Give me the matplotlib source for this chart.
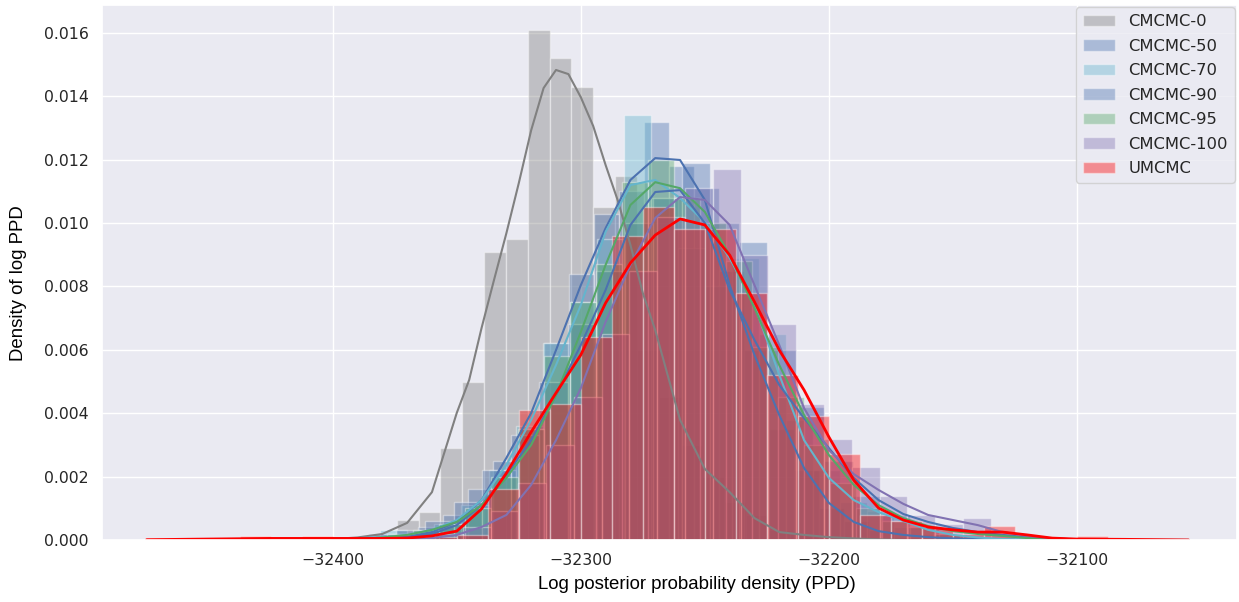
import numpy as np
import matplotlib
matplotlib.use("Agg")
import matplotlib.pyplot as plt
import seaborn as sns

# Series names and colours
labels = ["CMCMC-0", "CMCMC-50", "CMCMC-70", "CMCMC-90", "CMCMC-95", "CMCMC-100", "UMCMC"]
colors = ["gray", "#4C72B0", "#64B5CD", "#4C72B0", "#55A868", "#8172B2", "red"]

# Histogram bins: first edge, bin width, bar heights (density)
hist_start = [-32383.0, -32385.7, -32391.7, -32397.3, -32378.0, -32370.0, -32475.0]
hist_width = [8.8, 10.1, 10.9, 11.5, 10.5, 11.2, 12.5]

h_cmcmc0 = [0.0002, 0.00063, 0.00088, 0.0029, 0.0050, 0.0091, 0.0095, 0.0161, 0.0152,
            0.0143, 0.0105, 0.0115, 0.0060, 0.0045, 0.0030, 0.0020, 0.0012, 0.0008,
            0.0003, 0.0002, 0.0001]
h_cmcmc50 = [0.0001, 0.0002, 0.0004, 0.0008, 0.0016, 0.0025, 0.0035, 0.0062, 0.0084,
             0.0103, 0.0110, 0.0132, 0.0118, 0.0111, 0.0085, 0.0060, 0.0035, 0.0022,
             0.0010, 0.0006, 0.0003, 0.0001]
h_cmcmc70 = [0.0001, 0.0003, 0.0002, 0.0005, 0.0011, 0.0022, 0.0036, 0.0062, 0.0075,
             0.0095, 0.0134, 0.0108, 0.0092, 0.0080, 0.0089, 0.0065, 0.0038, 0.0022,
             0.0012, 0.0009, 0.0004, 0.0002, 0.0001]
h_cmcmc90 = [0.0001, 0.0002, 0.0003, 0.0006, 0.0012, 0.0022, 0.0033, 0.0050, 0.0068,
             0.0085, 0.0100, 0.0108, 0.0119, 0.0100, 0.0094, 0.0060, 0.0042, 0.0025,
             0.0014, 0.0008, 0.0004, 0.0002, 0.0001]
h_cmcmc95 = [0.0002, 0.0003, 0.0005, 0.0010, 0.0020, 0.0035, 0.0058, 0.0075, 0.0087,
             0.0113, 0.0120, 0.0108, 0.0100, 0.0088, 0.0061, 0.0045, 0.0030, 0.0018,
             0.0010, 0.0006, 0.0004, 0.0002, 0.0001]
h_cmcmc100 = [0.0001, 0.0002, 0.0004, 0.0009, 0.0018, 0.0030, 0.0045, 0.0065, 0.0085,
              0.0102, 0.0111, 0.0117, 0.0090, 0.0068, 0.0043, 0.0032, 0.0023, 0.0014,
              0.0008, 0.0005, 0.0007, 0.0002, 0.0001]
h_umcmc = [0, 0, 0, 0.00012, 0, 0.00012, 0, 0, 0.0001, 0.0001, 0.00016, 0.0016, 0.0041,
           0.0043, 0.0064, 0.0096, 0.0105, 0.0098, 0.0098, 0.0078, 0.0052, 0.0039,
           0.0027, 0.0008, 0.0006, 0.0004, 0.0002, 0.00044, 0, 0, 0.00013]

# KDE curves
kde_x = [-32400, -32390, -32380, -32370, -32360, -32350, -32340, -32330, -32320, -32310,
         -32300, -32290, -32280, -32270, -32260, -32250, -32240, -32230, -32220, -32210,
         -32200, -32190, -32180, -32170, -32160, -32150, -32140, -32130, -32120, -32110,
         -32100, -32080, -32055]
kde_x_red = [-32475, -32450, -32425] + kde_x
kde_x_gray = [-32400, -32390, -32380, -32370, -32360, -32350, -32345, -32340, -32335,
              -32330, -32325, -32320, -32315, -32310, -32305, -32300, -32295, -32290,
              -32285, -32280, -32275, -32270, -32260, -32250, -32240, -32230, -32220,
              -32210, -32200, -32190, -32180, -32170]

k_cmcmc0 = [0.00003, 0.00008, 0.00019, 0.00054, 0.00151, 0.00401, 0.00505, 0.00669, 0.0082,
            0.00968, 0.01126, 0.01293, 0.01426, 0.01483, 0.0147, 0.01397, 0.01306, 0.01183,
            0.01069, 0.00931, 0.00779, 0.00662, 0.00379, 0.00224, 0.00151, 0.00069,
            0.00025, 0.00016, 0.00009, 0.00005, 0.00002, 0]
k_cmcmc50 = [0.00002, 0.00003, 0.00006, 0.00013, 0.00025, 0.00057, 0.00126, 0.00259, 0.00401,
             0.00599, 0.00804, 0.00984, 0.01136, 0.01205, 0.01199, 0.01073, 0.00804, 0.00584,
             0.00394, 0.00227, 0.00117, 0.00057, 0.00028, 0.00016, 0.00009, 0.00005, 0.00003,
             0.00002, 0, 0, 0, 0, 0]
k_cmcmc70 = [0.00005, 0.00006, 0.00009, 0.00016, 0.00032, 0.00063, 0.00126, 0.00237, 0.00379,
             0.00552, 0.00741, 0.00972, 0.01120, 0.01136, 0.01079, 0.01003, 0.00890, 0.00741,
             0.00521, 0.00315, 0.00196, 0.00126, 0.00088, 0.00060, 0.00032, 0.00016, 0.00008,
             0.00003, 0.00002, 0, 0, 0, 0]
k_cmcmc90 = [0.00002, 0.00003, 0.00006, 0.00009, 0.00019, 0.00047, 0.00110, 0.00205, 0.00315,
             0.00457, 0.00615, 0.00789, 0.00994, 0.01098, 0.01104, 0.01000, 0.00789, 0.00631,
             0.00489, 0.00384, 0.00290, 0.00196, 0.00126, 0.00082, 0.00057, 0.00038, 0.00025,
             0.00016, 0.00009, 0.00005, 0.00002, 0, 0]
k_cmcmc95 = [0.00002, 0.00003, 0.00008, 0.00016, 0.00032, 0.00057, 0.00110, 0.00196, 0.00300,
             0.00457, 0.00656, 0.00868, 0.01057, 0.01129, 0.01110, 0.01035, 0.00899, 0.00732,
             0.00552, 0.00394, 0.00268, 0.00174, 0.00110, 0.00069, 0.00044, 0.00028, 0.00019,
             0.00013, 0.00006, 0.00003, 0.00002, 0, 0]
k_cmcmc100 = [0.00001, 0.00001, 0.00002, 0.00003, 0.00006, 0.00016, 0.00041, 0.00079, 0.00174,
              0.00315, 0.00479, 0.00688, 0.00868, 0.01016, 0.01082, 0.01073, 0.00994, 0.00804,
              0.00615, 0.00416, 0.00284, 0.00208, 0.00158, 0.00114, 0.00079, 0.00063, 0.00047,
              0.00025, 0.00013, 0.00005, 0.00002, 0, 0]
k_umcmc = [0.00001, 0.00003, 0.00005, 0.00005, 0.00005, 0.00005, 0.00006, 0.00013, 0.00028,
           0.00098, 0.00211, 0.00341, 0.00464, 0.00584, 0.00748, 0.00874, 0.00962, 0.01013,
           0.00994, 0.00899, 0.00751, 0.00599, 0.00473, 0.00325, 0.00189, 0.00101, 0.00063,
           0.00041, 0.00032, 0.00025, 0.00025, 0.00016, 0.00006, 0.00003, 0.00002, 0]

heights = [h_cmcmc0, h_cmcmc50, h_cmcmc70, h_cmcmc90, h_cmcmc95, h_cmcmc100, h_umcmc]
kdes = [k_cmcmc0, k_cmcmc50, k_cmcmc70, k_cmcmc90, k_cmcmc95, k_cmcmc100, k_umcmc]
kde_xs = [kde_x_gray, kde_x, kde_x, kde_x, kde_x, kde_x, kde_x_red]

sns.set_theme(style="darkgrid")
plt.rcParams['font.family'] = ['DejaVu Sans']

fig = plt.figure(figsize=(12.39, 6.02), dpi=100)
ax = fig.add_axes([102 / 1239, 62 / 602, 1135 / 1239, 535 / 602])

# histograms first, kde lines on top
for i, lab in enumerate(labels):
    h = np.array(heights[i])
    left = hist_start[i] + hist_width[i] * np.arange(len(h))
    ax.bar(left, h, width=hist_width[i], align='edge', color=colors[i], alpha=0.4,
           edgecolor='white', linewidth=1, label=lab)

for i, lab in enumerate(labels):
    lw = 2 if lab == "UMCMC" else 1.5
    ax.plot(kde_xs[i], kdes[i], color=colors[i], linewidth=lw, solid_joinstyle='round')

ax.set_xlim(-32493, -32035.5)
ax.set_ylim(0, 0.01688)
ax.set_xticks([-32400, -32300, -32200, -32100])
ax.set_yticks(np.arange(0, 0.0161, 0.002))
ax.yaxis.set_major_formatter(matplotlib.ticker.FormatStrFormatter('%.3f'))
ax.tick_params(labelsize=11.3, colors='#262626')

ax.set_xlabel('Log posterior probability density (PPD)', fontsize=13.4,
              family='Liberation Sans', color='black')
ax.set_ylabel('Density of log PPD', fontsize=13.4, family='Liberation Sans', color='black')
ax.xaxis.set_label_coords(0.524, -0.068)
ax.yaxis.set_label_coords(-0.066, 0.48)

leg = ax.legend(loc='upper right', fontsize=11.8, frameon=True, facecolor='#EAEAF2',
                edgecolor='#CCCCCC', framealpha=0.8, labelspacing=0.58, borderaxespad=0.15)

fig.savefig('out.png', dpi=100)
